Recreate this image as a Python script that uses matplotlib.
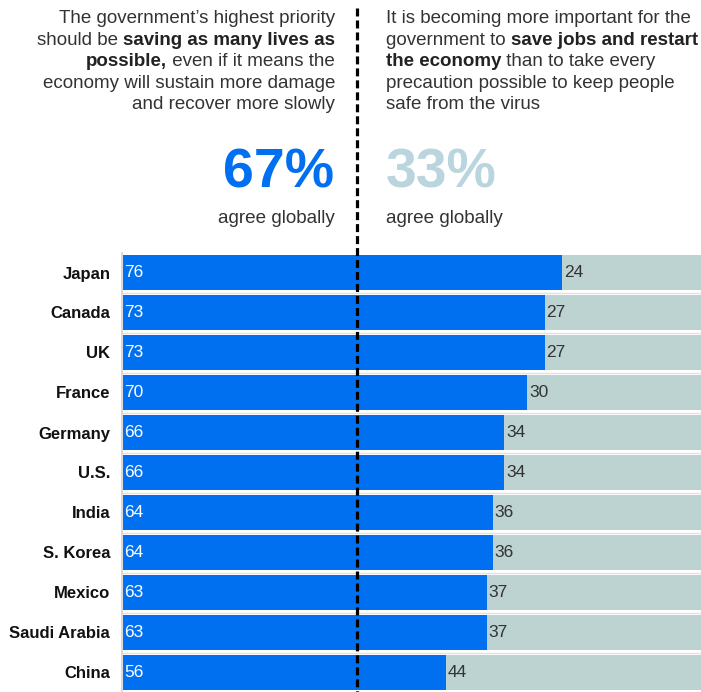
import matplotlib.pyplot as plt
from matplotlib.lines import Line2D

plt.rcParams['font.family'] = ['Liberation Sans', 'DejaVu Sans']

countries = ['Japan', 'Canada', 'UK', 'France', 'Germany', 'U.S.', 'India',
             'S. Korea', 'Mexico', 'Saudi Arabia', 'China']
lives = [76, 73, 73, 70, 66, 66, 64, 64, 63, 63, 56]
economy = [24, 27, 27, 30, 34, 34, 36, 36, 37, 37, 44]
global_lives = 67
global_economy = 33

BLUE = '#0070f0'
GREY = '#bcd3d2'
PALE = '#bad5de'
TEXT = '#333333'

W, H = 701, 692
fig = plt.figure(figsize=(W / 100, H / 100), dpi=100)
renderer = fig.canvas.get_renderer()


def fx(px):
    return px / W


def fy(py):
    return 1 - py / H


def rich_line(x, y, parts, align='left', size=13.5):
    # place normal/bold pieces side by side on one baseline
    items = []
    for s, bold in parts:
        t = fig.text(0, 0, s, fontsize=size, va='baseline',
                     weight='bold' if bold else 'normal',
                     color='#222222' if bold else TEXT)
        w = t.get_window_extent(renderer).width
        items.append((t, w))
    total = sum(w for _, w in items)
    cur = x - total if align == 'right' else x
    for t, w in items:
        t.set_position((fx(cur), fy(y)))
        cur += w


left_lines = [
    [('The government’s highest priority', False)],
    [('should be ', False), ('saving as many lives as', True)],
    [('possible,', True), (' even if it means the', False)],
    [('economy will sustain more damage', False)],
    [('and recover more slowly', False)],
]
right_lines = [
    [('It is becoming more important for the', False)],
    [('government to ', False), ('save jobs and restart', True)],
    [('the economy', True), (' than to take every', False)],
    [('precaution possible to keep people', False)],
    [('safe from the virus', False)],
]
for i, parts in enumerate(left_lines):
    rich_line(335, 23 + 21.6 * i, parts, align='right')
for i, parts in enumerate(right_lines):
    rich_line(386, 23 + 21.6 * i, parts, align='left')

fig.text(fx(334), fy(187), f'{global_lives}%', fontsize=40, weight='bold',
         color=BLUE, ha='right', va='baseline')
fig.text(fx(386), fy(187), f'{global_economy}%', fontsize=40, weight='bold',
         color=PALE, ha='left', va='baseline')
fig.text(fx(335), fy(223), 'agree globally', fontsize=13.6, color=TEXT,
         ha='right', va='baseline')
fig.text(fx(386), fy(223), 'agree globally', fontsize=13.6, color=TEXT,
         ha='left', va='baseline')

ax = fig.add_axes([fx(122), 0, 1 - fx(122), (H - 252.5) / H])
y = list(range(len(countries)))
ax.barh(y, lives, height=0.875, color=BLUE, zorder=2)
ax.barh(y, economy, left=lives, height=0.875, color=GREY, zorder=2)
for i in y[:-1]:
    ax.axhline(i + 0.5, color='#e2e2e2', lw=1, zorder=1)

for i, (a, b) in enumerate(zip(lives, economy)):
    ax.text(0.4, i, str(a), color='white', fontsize=12.5, va='center', ha='left')
    ax.text(a + 0.3, i, str(b), color=TEXT, fontsize=12.5, va='center', ha='left')

ax.set_xlim(0, 100)
ax.set_ylim(10.4875, -0.5)
ax.set_yticks(y)
ax.set_yticklabels(countries, fontsize=12, weight='bold', color='#111111')
ax.tick_params(axis='y', length=0, pad=8.5)
ax.set_xticks([])
for side in ['top', 'right', 'bottom']:
    ax.spines[side].set_visible(False)
ax.spines['left'].set_color('#d9d9d9')
ax.spines['left'].set_linewidth(1.5)

# dashed divider between the two statements
divider = Line2D([fx(357), fx(357)], [fy(8), 0], transform=fig.transFigure,
                 color='black', lw=2.3, dashes=(2.5, 1.25), zorder=10)
fig.add_artist(divider)

plt.savefig('out.png', dpi=100)
